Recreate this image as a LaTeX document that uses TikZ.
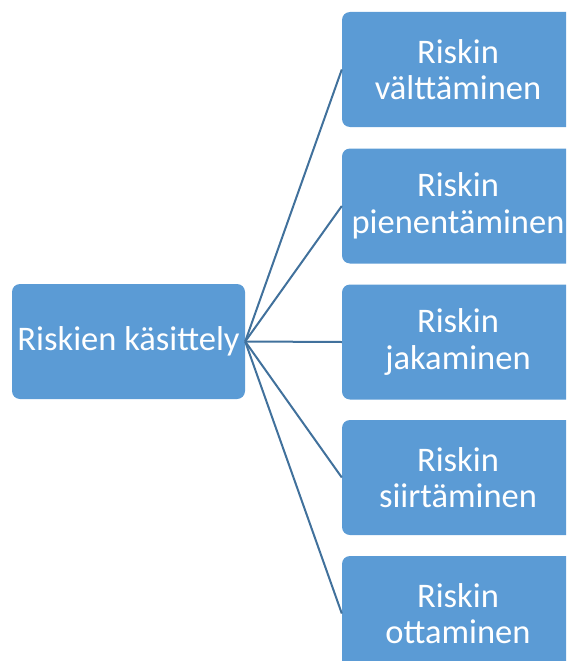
\documentclass[tikz,border=0pt]{standalone}
\usepackage{fontspec}
\setmainfont{Carlito}
\definecolor{boxblue}{RGB}{91,155,213}
\definecolor{lineblue}{RGB}{65,113,156}
\begin{document}
\begin{tikzpicture}[x=1pt,y=-1pt,
  riskbox/.style={fill=boxblue, draw=none, rounded corners=8pt, text=white,
    align=center, inner sep=0pt, font=\fontsize{34.5}{36.5}\selectfont},
  conn/.style={draw=lineblue, line width=2pt}]
\useasboundingbox (0,0) rectangle (566,661);
\clip (0,0) rectangle (566,661);
\node[riskbox, minimum width=233pt, minimum height=115pt] (main) at (128.5,341.5) {Riskien käsittely};
\node[riskbox, minimum width=232pt, minimum height=115pt] (a) at (458,69.5) {Riskin\\välttäminen};
\node[riskbox, minimum width=232pt, minimum height=115pt] (b) at (458,206) {Riskin\\pienentäminen};
\node[riskbox, minimum width=232pt, minimum height=115pt] (c) at (458,342) {Riskin\\jakaminen};
\node[riskbox, minimum width=232pt, minimum height=115pt] (d) at (458,477.5) {Riskin\\siirtäminen};
\node[riskbox, minimum width=232pt, minimum height=115pt] (e) at (458,613.5) {Riskin\\ottaminen};
\foreach \t in {a,b,c,d,e}{
  \draw[conn] (main.east) -- (\t.west);
}
\end{tikzpicture}
\end{document}
